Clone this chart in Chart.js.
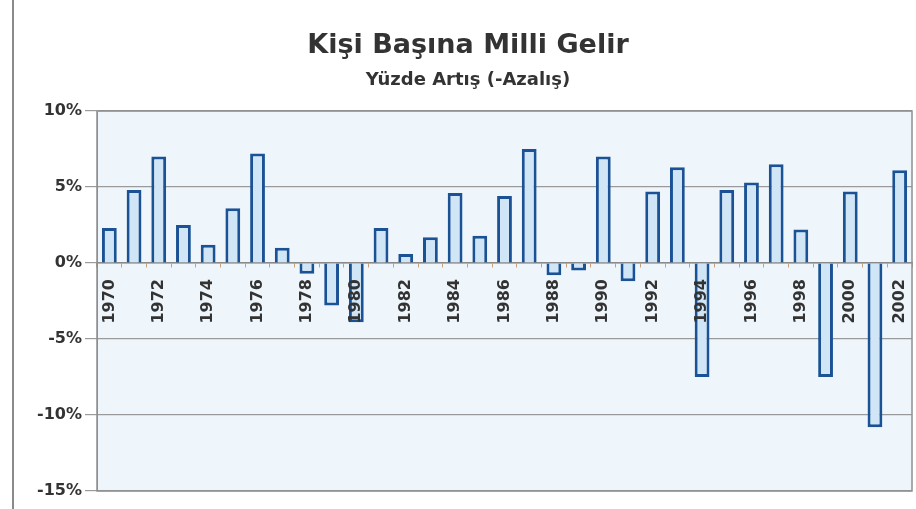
<!DOCTYPE html>
<html>
<head>
<meta charset="utf-8">
<script src="https://cdn.jsdelivr.net/npm/chart.js@4/dist/chart.umd.min.js"></script>
<style>
  html, body { margin: 0; padding: 0; background: #ffffff; }
  #wrap { position: relative; width: 916px; height: 509px; }
  #frame { position: absolute; left: 12px; top: 0; width: 0; height: 509px; border-left: 2px solid #8a8a8a; }
</style>
</head>
<body>
<div id="wrap">
  <canvas id="c" width="916" height="509"></canvas>
  <div id="frame"></div>
</div>
<script>
const titleText = "Kişi Başına Milli Gelir";
const subtitleText = "Yüzde Artış (-Azalış)";
const years = ["1970","1971","1972","1973","1974","1975","1976","1977","1978","1979","1980",
               "1981","1982","1983","1984","1985","1986","1987","1988","1989","1990","1991",
               "1992","1993","1994","1995","1996","1997","1998","1999","2000","2001","2002"];
const growth = [2.3, 4.8, 7.0, 2.5, 1.2, 3.6, 7.2, 1.0, -0.7, -2.8, -3.9,
                2.3, 0.6, 1.7, 4.6, 1.8, 4.4, 7.5, -0.8, -0.5, 7.0, -1.2,
                4.7, 6.3, -7.5, 4.8, 5.3, 6.5, 2.2, -7.5, 4.7, -10.8, 6.1];
const yTicks = [-15, -10, -5, 0, 5, 10];

const plotBg = {
  id: 'plotBg',
  beforeDraw(chart) {
    const a = chart.chartArea, ctx = chart.ctx;
    ctx.save();
    ctx.fillStyle = '#eef6fb';
    ctx.fillRect(a.left, a.top, a.right - a.left, a.bottom - a.top);
    ctx.restore();
  },
  afterDatasetsDraw(chart) {
    const a = chart.chartArea, ctx = chart.ctx;
    ctx.save();
    ctx.strokeStyle = '#8f8f8f';
    ctx.lineWidth = 1.5;
    ctx.strokeRect(a.left, a.top, a.right - a.left, a.bottom - a.top);
    ctx.restore();
  }
};

new Chart(document.getElementById('c'), {
  type: 'bar',
  data: {
    labels: years,
    datasets: [{
      data: growth,
      backgroundColor: '#d0e6f7',
      borderColor: '#1b5296',
      borderWidth: 3,
      barPercentage: 0.6,
      categoryPercentage: 1.0
    }]
  },
  options: {
    responsive: false,
    animation: false,
    devicePixelRatio: 1,
    layout: { padding: { left: 24, right: 4, top: 0, bottom: 18 } },
    plugins: {
      legend: { display: false },
      tooltip: { enabled: false },
      title: {
        display: true,
        text: titleText,
        color: '#333333',
        font: { family: 'DejaVu Sans', size: 27, weight: 'bold' },
        padding: { top: 30, bottom: 7 }
      },
      subtitle: {
        display: true,
        text: subtitleText,
        color: '#333333',
        font: { family: 'DejaVu Sans', size: 18, weight: 'bold' },
        padding: { top: 0, bottom: 20 }
      }
    },
    scales: {
      x: {
        position: { y: 0 },
        offset: true,
        afterFit(scale) { scale.paddingLeft = 0; scale.paddingRight = 0; },
        grid: { display: true, drawOnChartArea: false, drawTicks: true, tickLength: 4, color: '#c9a27a', offset: true },
        border: { display: true, color: '#8a8a8a', width: 1.5 },
        ticks: {
          z: 1,
          autoSkip: false,
          minRotation: 90,
          maxRotation: 90,
          padding: 12,
          color: '#333333',
          font: { family: 'DejaVu Sans', size: 16, weight: 'bold' },
          callback: function (v, i) { return i % 2 === 0 ? years[i] : ''; }
        }
      },
      y: {
        min: -15,
        max: 10,
        afterFit(scale) { scale.width = 73; },
        afterBuildTicks(scale) { scale.ticks = yTicks.map(v => ({ value: v })); },
        grid: { color: '#9a9a9a', lineWidth: 1.2, tickLength: 12 },
        border: { display: true, color: '#8f8f8f' },
        ticks: {
          padding: 3,
          color: '#333333',
          font: { family: 'DejaVu Sans', size: 16, weight: 'bold' },
          callback: v => v + '%'
        }
      }
    }
  },
  plugins: [plotBg]
});
</script>
</body>
</html>
